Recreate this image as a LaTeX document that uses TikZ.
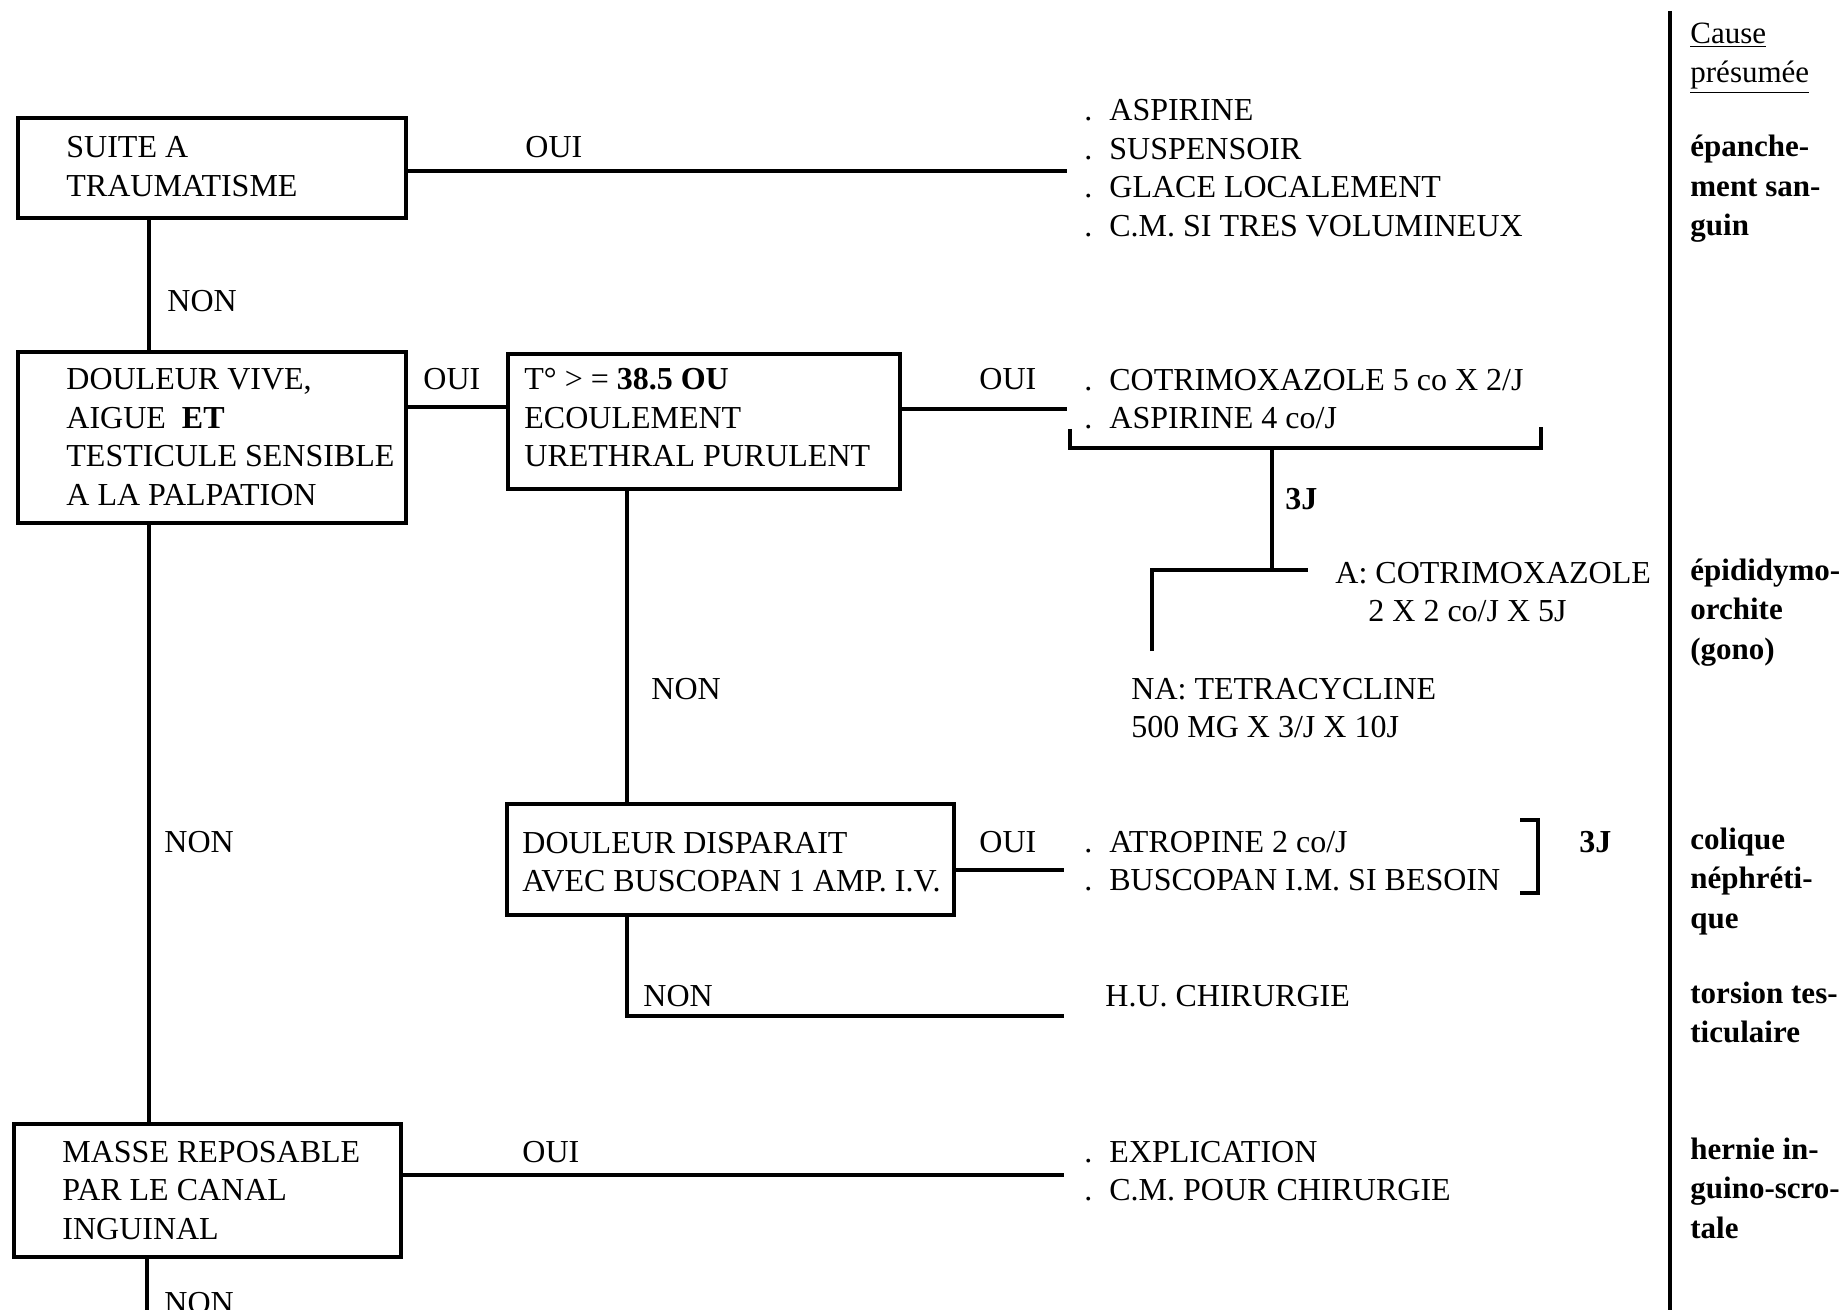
\documentclass[tikz,border=0pt]{standalone}
\usepackage{fontspec}
\setmainfont{Liberation Serif}
\newcommand\itemdot{.\hspace{8.5pt}}
\begin{document}
\begin{tikzpicture}[x=0.5pt,y=-0.5pt,
  box/.style={draw, line width=2.2pt, rectangle, inner sep=0pt, anchor=north west},
  txt/.style={font=\fontsize{16}{19.25}\selectfont, align=left, inner sep=0pt, anchor=base west},
  lbl/.style={font=\fontsize{16}{19.25}\selectfont, inner sep=0pt, anchor=base west},
  blbl/.style={lbl, font=\fontsize{16}{19.25}\selectfont\bfseries},
  cause/.style={font=\fontsize{15.5}{19.75}\selectfont\bfseries, align=left, inner sep=0pt, anchor=base west},
  conn/.style={line width=1.8pt},
]
\clip (0,0) rectangle (1843,1310);
\path[use as bounding box] (0,0) rectangle (1843,1310);

% boxes
\node[box, minimum width=194pt, minimum height=50pt] (b1) at (16,116) {};
\node[box, minimum width=194pt, minimum height=85.5pt] (b2) at (16,350) {};
\node[box, minimum width=196pt, minimum height=67.5pt] (b3) at (506,352) {};
\node[box, minimum width=223.5pt, minimum height=55.5pt] (b5) at (505,802) {};
\node[box, minimum width=193.5pt, minimum height=66.5pt] (b4) at (12,1122) {};

% box texts (anchored at the baseline of their last line)
\node[txt] (t1) at (66,196.5) {SUITE A\\TRAUMATISME};
\node[txt] (t2) at (66,505.5) {DOULEUR VIVE,\\AIGUE~~\textbf{ET}\\TESTICULE SENSIBLE\\A LA PALPATION};
\node[txt] (t3) at (524,467) {T° > = \textbf{38.5 OU}\\ECOULEMENT\\URETHRAL PURULENT};
\node[txt] (t5) at (522,891.5) {DOULEUR DISPARAIT\\AVEC BUSCOPAN 1 AMP. I.V.};
\node[txt] (t4) at (62,1239) {MASSE REPOSABLE\\PAR LE CANAL\\INGUINAL};

% treatment texts
\node[txt] (l1) at (1084,236.5) {\itemdot ASPIRINE\\\itemdot SUSPENSOIR\\\itemdot GLACE LOCALEMENT\\\itemdot C.M. SI TRES VOLUMINEUX};
\node[txt] (l2) at (1084,429) {\itemdot COTRIMOXAZOLE 5 co X 2/J\\\itemdot ASPIRINE 4 co/J};
\node[txt] (ta) at (1335,622) {A: COTRIMOXAZOLE\\\hspace*{16.5pt}2 X 2 co/J X 5J};
\node[txt] (tna) at (1131,737.5) {NA: TETRACYCLINE\\500 MG X 3/J X 10J};
\node[txt] (l3) at (1084,890.5) {\itemdot ATROPINE 2 co/J\\\itemdot BUSCOPAN I.M. SI BESOIN};
\node[txt] (hu) at (1105,1006) {H.U. CHIRURGIE};
\node[txt] (l4) at (1084,1200.5) {\itemdot EXPLICATION\\\itemdot C.M. POUR CHIRURGIE};

% labels
\node[lbl] (oui1) at (525,158) {OUI};
\node[lbl] (non1) at (167,312) {NON};
\node[lbl] (oui2) at (423,390) {OUI};
\node[lbl] (oui3) at (979,390) {OUI};
\node[blbl] (j3a) at (1285,510) {3J};
\node[lbl] (non2) at (651,699) {NON};
\node[lbl] (non3) at (164,852) {NON};
\node[lbl] (oui4) at (979,852) {OUI};
\node[blbl] (j3b) at (1579,852) {3J};
\node[lbl] (non4) at (643,1006) {NON};
\node[lbl] (oui5) at (522,1162) {OUI};
\node[lbl] (non5) at (164,1313) {NON};

% cause column (anchored at the baseline of their last line)
\node[cause, font=\fontsize{15.5}{19.75}\selectfont] (c0) at (1690,83) {\underline{Cause}\\\underline{présumée}};
\node[cause] (c1) at (1690,236) {épanche-\\ment san-\\guin};
\node[cause] (c2) at (1690,659) {épididymo-\\orchite\\(gono)};
\node[cause] (c3) at (1690,928) {colique\\néphréti-\\que};
\node[cause] (c4) at (1690,1042.5) {torsion tes-\\ticulaire};
\node[cause] (c5) at (1690,1238) {hernie in-\\guino-scro-\\tale};

% coordinates
\coordinate (xa) at (149,0);
\coordinate (xm) at (627,0);
\coordinate (r1) at (1067,171);
\coordinate (r2) at (1067,409);
\coordinate (r3) at (1064,870);
\coordinate (r4) at (1064,1016);
\coordinate (r5) at (1064,1175);
\coordinate (yb) at (0,407);
\coordinate (bot) at (147,1310);

% connectors
\draw[conn] (b1.south -| xa) -- (b2.north -| xa);
\draw[conn] (b2.south -| xa) -- (b4.north -| xa);
\draw[conn] (b4.south -| bot) -- (bot);
\draw[conn] (b1.east |- r1) -- (r1);
\draw[conn] (b2.east |- yb) -- (b3.west |- yb);
\draw[conn] (b3.east |- r2) -- (r2);
\draw[conn] (b3.south -| xm) -- (b5.north -| xm);
\draw[conn] (b5.east |- r3) -- (r3);
\draw[conn] (b5.south -| xm) |- (r4);
\draw[conn] (b4.east |- r5) -- (r5);

% bracket and branches
\coordinate (brL) at (1070,429);
\coordinate (brR) at (1541,427);
\coordinate (brY) at (0,448);
\coordinate (stem) at (1272,448);
\coordinate (jn) at (1272,570);
\coordinate (jnL) at (1152,570);
\coordinate (jnR) at (1308,570);
\coordinate (naTop) at (1152,651);
\draw[conn] (brL) -- (brL |- brY) -- (brR |- brY) -- (brR);
\draw[conn] (stem) -- (jn);
\draw[conn] (naTop) -- (jnL) -- (jnR);

% right bracket
\coordinate (rbT) at (1520,820);
\coordinate (rbB) at (1520,893);
\draw[conn] (rbT) -- ++(18,0) |- (rbB);

% vertical rule
\coordinate (ruleT) at (1670,11);
\coordinate (ruleB) at (1670,1310);
\draw[line width=2.4pt] (ruleT) -- (ruleB);
\end{tikzpicture}
\end{document}
